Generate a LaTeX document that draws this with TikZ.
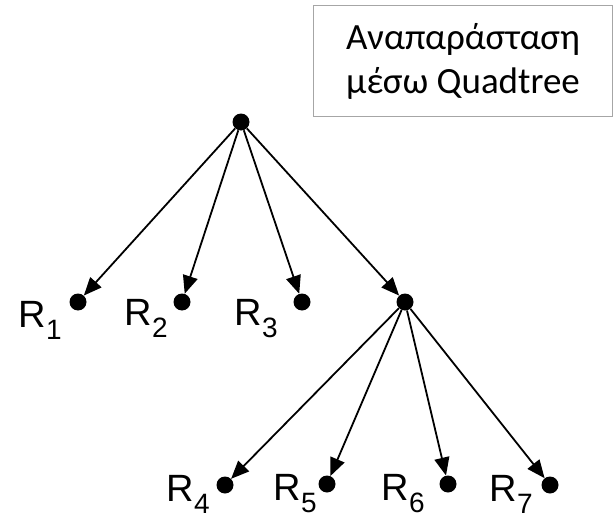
\documentclass[tikz,border=0pt]{standalone}
\usepackage{fontspec}
\setmainfont{Liberation Sans}
\newfontfamily\titlefont{Carlito}
\usetikzlibrary{arrows.meta}
\tikzset{>={Triangle[length=18pt,width=15pt]}}
\tikzset{
  dot/.style={circle,fill=black,inner sep=0pt,minimum size=17pt},
  edge/.style={->,line width=1.8pt},
  rlabel/.style={anchor=base east,inner sep=0pt,font=\fontsize{38}{38}\selectfont},
  titlebox/.style={draw=gray!70,line width=1.2pt,align=center,
    minimum width=299pt,minimum height=111pt,inner sep=0pt,
    font=\titlefont\fontsize{37}{44}\selectfont},
}
\newcommand{\rsub}[1]{R\raisebox{-12pt}{\fontsize{28}{28}\selectfont #1}}

\begin{document}
\begin{tikzpicture}[x=1pt,y=-1pt]
  \useasboundingbox (0,0) rectangle (614,514);

  % κόμβοι
  \node[dot] (root) at (241,122) {};
  \node[dot] (r1) at (78,302) {};
  \node[dot] (r2) at (182,302) {};
  \node[dot] (r3) at (302,302) {};
  \node[dot] (n4) at (405,302) {};
  \node[dot] (r4) at (225,485) {};
  \node[dot] (r5) at (327,484) {};
  \node[dot] (r6) at (448,484) {};
  \node[dot] (r7) at (550,485) {};

  % ακμές
  \draw[edge] (root) -- (r1);
  \draw[edge] (root) -- (r2);
  \draw[edge] (root) -- (r3);
  \draw[edge] (root) -- (n4);
  \draw[edge] (n4) -- (r4);
  \draw[edge] (n4) -- (r5);
  \draw[edge] (n4) -- (r6);
  \draw[edge] (n4) -- (r7);

  % ετικέτες
  \node[rlabel] (l1) at ([shift={(-16,25)}]r1) {\rsub{1}};
  \node[rlabel] (l2) at ([shift={(-14,23)}]r2) {\rsub{2}};
  \node[rlabel] (l3) at ([shift={(-24,23)}]r3) {\rsub{3}};
  \node[rlabel] (l4) at ([shift={(-15,16)}]r4) {\rsub{4}};
  \node[rlabel] (l5) at ([shift={(-10,16)}]r5) {\rsub{5}};
  \node[rlabel] (l6) at ([shift={(-23,16)}]r6) {\rsub{6}};
  \node[rlabel] (l7) at ([shift={(-17,16)}]r7) {\rsub{7}};

  % πλαίσιο τίτλου
  \node[titlebox] (title) at (463,61) {Αναπαράσταση\\μέσω Quadtree};
\end{tikzpicture}
\end{document}
